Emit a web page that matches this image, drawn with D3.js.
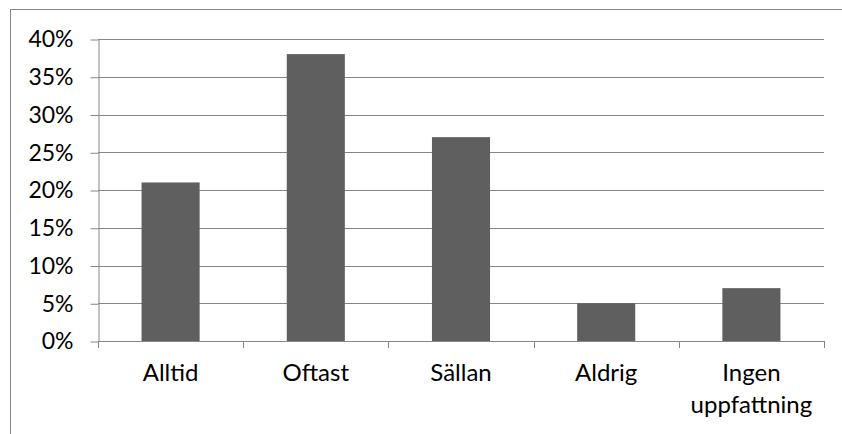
<!DOCTYPE html>
<html>
<head>
<meta charset="utf-8">
<script src="https://cdn.jsdelivr.net/npm/d3@7"></script>
<style>
  html, body { margin: 0; padding: 0; background: #fff; }
  svg { display: block; }
  text { font-family: Lato, "Open Sans", sans-serif; fill: #000; }
</style>
</head>
<body>
<svg id="chart" width="842" height="434"></svg>
<script>
// Survey answers and their shares (percent)
const categories = ["Alltid", "Oftast", "Sällan", "Aldrig", "Ingen uppfattning"];
const values = [21, 38, 27, 5, 7];
const yTicks = [0, 5, 10, 15, 20, 25, 30, 35, 40];

const svg = d3.select("#chart");
const W = 842, H = 434;
const plot = { left: 98, right: 824, top: 39, bottom: 341 };
const gridColor = "#868686";

// Outer chart frame
svg.append("rect")
  .attr("x", 10.5).attr("y", 9.5)
  .attr("width", W).attr("height", H)
  .attr("fill", "none").attr("stroke", gridColor).attr("stroke-width", 1);

const x = d3.scaleBand()
  .domain(categories)
  .range([plot.left, plot.right])
  .paddingInner(0.6)
  .paddingOuter(0.3);

const y = d3.scaleLinear().domain([0, 40]).range([plot.bottom, plot.top]);

// Horizontal gridlines
svg.append("g")
  .selectAll("line")
  .data(yTicks)
  .join("line")
  .attr("x1", plot.left).attr("x2", plot.right)
  .attr("y1", d => Math.round(y(d)) + 0.5).attr("y2", d => Math.round(y(d)) + 0.5)
  .attr("stroke", gridColor).attr("stroke-width", 1);

// Y axis
const yAxis = svg.append("g")
  .attr("transform", `translate(${plot.left + 0.5},0.5)`)
  .call(d3.axisLeft(y).tickValues(yTicks).tickFormat(d => d + "%").tickSize(8).tickSizeOuter(0).tickPadding(17));
yAxis.select(".domain").attr("stroke", gridColor);
yAxis.selectAll(".tick line").attr("stroke", gridColor);
yAxis.selectAll(".tick text")
  .attr("font-size", 23)
  .attr("font-family", "Lato, 'Open Sans', sans-serif")
  .attr("fill", "#000");

// Bars
svg.append("g")
  .selectAll("rect")
  .data(values)
  .join("rect")
  .attr("x", (d, i) => x(categories[i]))
  .attr("y", d => y(d))
  .attr("width", x.bandwidth())
  .attr("height", d => y(0) - y(d))
  .attr("fill", "#5f5f5f");

// X axis baseline and category boundary ticks
const boundaries = d3.range(categories.length + 1).map(i => plot.left + i * (plot.right - plot.left) / categories.length);
svg.append("line")
  .attr("x1", plot.left).attr("x2", plot.right)
  .attr("y1", plot.bottom + 0.5).attr("y2", plot.bottom + 0.5)
  .attr("stroke", gridColor);
svg.append("g")
  .selectAll("line")
  .data(boundaries)
  .join("line")
  .attr("x1", d => Math.round(d) + 0.5).attr("x2", d => Math.round(d) + 0.5)
  .attr("y1", plot.bottom).attr("y2", plot.bottom + 7)
  .attr("stroke", gridColor);

// Category labels, wrapped to two lines where needed
const labels = svg.append("g")
  .selectAll("text")
  .data(categories)
  .join("text")
  .attr("text-anchor", "middle")
  .attr("font-size", 24)
  .attr("x", d => x(d) + x.bandwidth() / 2);
labels.each(function(d) {
  const words = d.split(" ");
  const t = d3.select(this);
  words.forEach((w, i) => {
    t.append("tspan")
      .attr("x", x(d) + x.bandwidth() / 2)
      .attr("y", 381 + i * 32)
      .text(w);
  });
});
</script>
</body>
</html>
